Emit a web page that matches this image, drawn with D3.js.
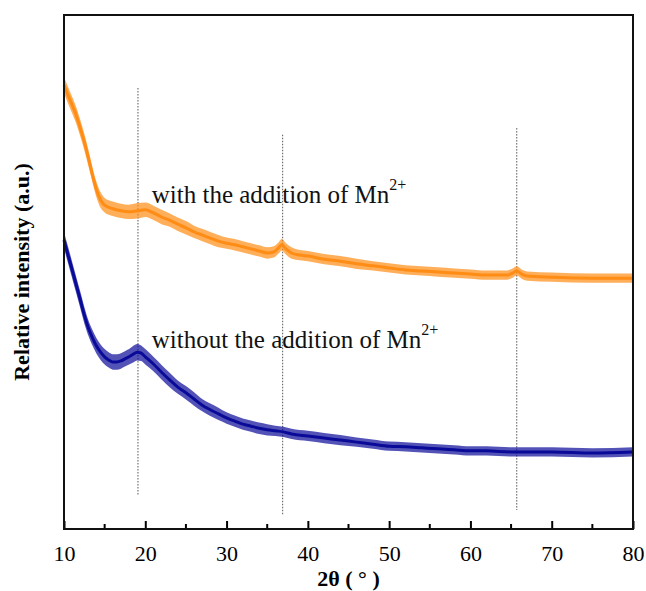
<!DOCTYPE html>
<html>
<head>
<meta charset="utf-8">
<script src="https://cdn.jsdelivr.net/npm/d3@7"></script>
<style>
  body { margin: 0; background: #fff; }
</style>
</head>
<body>
<div id="chart"></div>
<script>
// XRD patterns: [2theta, intensity (a.u.), noise half-width]
const withMn = [
  [10, 86.4, 1.6], [10.5, 84.4, 1.6], [11, 82.5, 1.6], [11.5, 80.5, 1.6], [12, 78.0, 1.6],
  [12.5, 75.3, 1.6], [13, 72.2, 1.6], [13.5, 68.9, 1.5], [14, 66.0, 1.5], [14.5, 64.0, 1.5],
  [15, 63.0, 1.4], [16, 62.3, 1.4], [17, 61.9, 1.4], [18, 61.7, 1.4], [19, 61.9, 1.5],
  [20, 62.1, 1.4], [21, 61.5, 1.4], [22, 60.7, 1.4], [23, 60.1, 1.3], [24, 59.3, 1.3],
  [25, 58.6, 1.3], [26, 57.8, 1.2], [27, 57.2, 1.2], [28, 56.6, 1.2], [29, 56.0, 1.2],
  [30, 55.6, 1.1], [31, 55.3, 1.1], [32, 54.9, 1.1], [33, 54.5, 1.1], [34, 54.1, 1.1],
  [35, 53.7, 1.1], [35.8, 53.9, 1.1], [36.4, 54.7, 1.1], [36.8, 55.3, 1.1], [37.3, 54.5, 1.1],
  [38, 53.7, 1.1], [39, 53.3, 1.0], [40, 53.1, 1.0], [42, 52.5, 1.0], [44, 52.1, 1.0],
  [46, 51.6, 1.0], [48, 51.2, 0.9], [50, 50.8, 0.9], [52, 50.4, 0.9], [54, 50.2, 0.9],
  [56, 50.0, 0.9], [58, 49.8, 0.9], [60, 49.6, 0.9], [62, 49.4, 0.9], [64.5, 49.4, 0.9],
  [65.2, 49.8, 0.9], [65.7, 50.2, 0.9], [66.3, 49.6, 0.9], [67, 49.2, 0.9], [70, 49.0, 0.9],
  [75, 48.8, 0.9], [80, 48.8, 0.9]
];
const withoutMn = [
  [10, 56.2, 1.6], [10.5, 53.3, 1.6], [11, 50.4, 1.6], [11.5, 47.5, 1.6], [12, 44.6, 1.6],
  [12.5, 41.6, 1.6], [13, 39.1, 1.5], [13.5, 37.2, 1.5], [14, 35.6, 1.5], [14.5, 34.4, 1.5],
  [15, 33.5, 1.5], [15.5, 32.9, 1.5], [16, 32.5, 1.5], [16.5, 32.5, 1.5], [17, 32.7, 1.5],
  [17.5, 33.1, 1.5], [18, 33.5, 1.5], [18.5, 34.0, 1.6], [19, 34.4, 1.6], [19.5, 34.2, 1.5],
  [20, 33.5, 1.5], [21, 32.1, 1.4], [22, 30.5, 1.4], [23, 29.0, 1.4], [24, 27.6, 1.3],
  [25, 26.5, 1.3], [26, 25.3, 1.3], [27, 24.1, 1.2], [28, 23.2, 1.2], [29, 22.4, 1.2],
  [30, 21.6, 1.1], [31, 21.0, 1.1], [32, 20.4, 1.1], [33, 20.0, 1.1], [34, 19.6, 1.1],
  [35, 19.3, 1.1], [36, 19.1, 1.0], [37, 18.9, 1.0], [38, 18.5, 1.0], [40, 18.1, 1.0],
  [42, 17.7, 1.0], [44, 17.3, 1.0], [46, 16.9, 0.9], [48, 16.5, 0.9], [50, 16.1, 0.9],
  [52, 16.0, 0.9], [54, 15.8, 0.9], [56, 15.6, 0.9], [58, 15.4, 0.9], [60, 15.2, 0.9],
  [62, 15.2, 0.9], [65, 15.0, 0.9], [68, 15.0, 0.9], [70, 15.0, 0.9], [75, 14.8, 0.9],
  [80, 15.0, 0.9]
];
// dotted reference lines: [2theta, top, bottom]
const peakLines = [[19.1, 85.8, 6.6], [36.9, 76.7, 2.7], [65.7, 78.0, 3.7]];
const xTicks = [10, 20, 30, 40, 50, 60, 70, 80];
const xMinorTicks = [15, 25, 35, 45, 55, 65, 75];
const seriesLabels = [
  { text: "with the addition of Mn", x: 20.8, y: 63.4 },
  { text: "without the addition of Mn", x: 20.8, y: 35.2 }
];

const serif = "Liberation Serif, Times New Roman, Times, Tinos, Nimbus Roman, Noto Serif, FreeSerif, DejaVu Serif, serif";
const width = 646, height = 591;
const margin = { top: 15, right: 13, bottom: 62, left: 64 };

const svg = d3.select("#chart").append("svg")
  .attr("width", width).attr("height", height)
  .attr("font-family", serif);

const x = d3.scaleLinear().domain([10, 80]).range([margin.left, width - margin.right]);
const y = d3.scaleLinear().domain([0, 100]).range([height - margin.bottom, margin.top]);

// dotted lines
svg.selectAll(".peak").data(peakLines).join("line")
  .attr("x1", d => x(d[0])).attr("x2", d => x(d[0]))
  .attr("y1", d => y(d[1])).attr("y2", d => y(d[2]))
  .attr("stroke", "#555").attr("stroke-width", 1)
  .attr("stroke-dasharray", "1.5,1.5");

function drawSeries(data, color) {
  const band = d3.area()
    .x(d => x(d[0]))
    .y0(d => y(d[1] - d[2]))
    .y1(d => y(d[1] + d[2]))
    .curve(d3.curveMonotoneX);
  svg.append("path").datum(data)
    .attr("d", band)
    .attr("fill", color).attr("opacity", 0.7);
  const line = d3.line()
    .x(d => x(d[0])).y(d => y(d[1]))
    .curve(d3.curveMonotoneX);
  svg.append("path").datum(data)
    .attr("d", line)
    .attr("fill", "none").attr("stroke", color).attr("stroke-width", 3);
}
drawSeries(withMn, "#ff8c14");
drawSeries(withoutMn, "#0a0a99");

// series labels
seriesLabels.forEach(l => {
  const t = svg.append("text")
    .attr("x", x(l.x)).attr("y", y(l.y))
    .attr("font-family", serif)
    .attr("font-size", 25).attr("fill", "#111")
    .text(l.text);
  t.append("tspan").attr("dy", -13).attr("font-size", 16).text("2+");
});

// x axis with inward ticks
const xAxis = svg.append("g")
  .attr("transform", `translate(0,${height - margin.bottom})`)
  .call(d3.axisBottom(x).tickValues(xTicks).tickSize(-8).tickPadding(16).tickFormat(d3.format("d")));
xAxis.attr("font-family", serif);
xAxis.select(".domain").remove();
xAxis.selectAll(".tick line").attr("stroke", "#000").attr("stroke-width", 2);
xAxis.selectAll(".tick text")
  .attr("font-family", serif)
  .attr("font-size", 22).attr("fill", "#000");

svg.append("g")
  .attr("transform", `translate(0,${height - margin.bottom})`)
  .selectAll("line").data(xMinorTicks).join("line")
  .attr("x1", d => x(d)).attr("x2", d => x(d))
  .attr("y1", 0).attr("y2", -5)
  .attr("stroke", "#000").attr("stroke-width", 2);

// frame
svg.append("rect")
  .attr("x", margin.left).attr("y", margin.top)
  .attr("width", width - margin.left - margin.right)
  .attr("height", height - margin.top - margin.bottom)
  .attr("fill", "none").attr("stroke", "#111").attr("stroke-width", 2);

// axis titles
svg.append("text")
  .attr("x", (margin.left + width - margin.right) / 2).attr("y", 586)
  .attr("font-family", serif)
  .attr("text-anchor", "middle").attr("font-size", 22).attr("font-weight", "bold")
  .text("2θ ( ° )");

svg.append("text")
  .attr("transform", `translate(29,${(margin.top + height - margin.bottom) / 2}) rotate(-90)`)
  .attr("font-family", serif)
  .attr("text-anchor", "middle").attr("font-size", 22).attr("font-weight", "bold")
  .text("Relative intensity (a.u.)");
</script>
</body>
</html>
